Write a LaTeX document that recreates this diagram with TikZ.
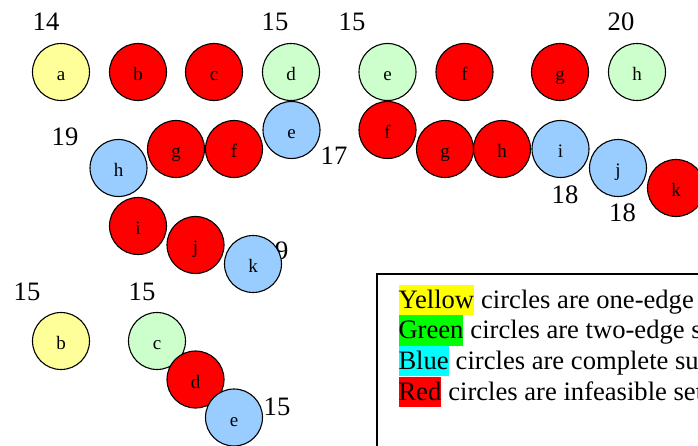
\documentclass[tikz,border=0pt]{standalone}
\usepackage{fontspec}
\setmainfont{Liberation Serif}
\definecolor{cyellow}{HTML}{FFFF99}
\definecolor{cred}{HTML}{FF0000}
\definecolor{cgreen}{HTML}{CCFFCC}
\definecolor{cblue}{HTML}{99CCFF}
\definecolor{hyellow}{HTML}{FFFF00}
\definecolor{hgreen}{HTML}{00FF00}
\definecolor{hcyan}{HTML}{00FFFF}
\definecolor{hred}{HTML}{FF0000}
\tikzset{
  cnode/.style={circle, draw=black, line width=1.1pt, minimum size=57pt, inner sep=0pt,
    text height=17pt, text depth=0pt, font=\fontsize{19}{20}\selectfont},
  ylw/.style={cnode, fill=cyellow},
  rd/.style={cnode, fill=cred},
  grn/.style={cnode, fill=cgreen},
  blu/.style={cnode, fill=cblue},
  lbl/.style={inner sep=0pt, font=\fontsize{26.6}{30}\selectfont},
  hl/.style={inner sep=0pt, anchor=base west, text height=23.5pt, text depth=7pt, font=\fontsize{26.6}{30}\selectfont},
  legtxt/.style={inner sep=0pt, anchor=base west, font=\fontsize{26.6}{30}\selectfont},
}
\begin{document}
\begin{tikzpicture}[x=1pt,y=-1pt]
\useasboundingbox (0,0) rectangle (698,446);
% top row
\node[lbl] (l14) at (46,22) {14};
\node[lbl] (l15a) at (275,22) {15};
\node[lbl] (l15b) at (352,22) {15};
\node[lbl] (l20) at (621,22) {20};
\node[ylw] (a1) at (61,72) {a};
\node[rd] (b1) at (138,72) {b};
\node[rd] (c1) at (214,72) {c};
\node[grn] (d1) at (291,72) {d};
\node[grn] (e1) at (387.5,72) {e};
\node[rd] (f1) at (464.5,72) {f};
\node[rd] (g1) at (560,72) {g};
\node[grn] (h1) at (637,72) {h};
% left chain
\node[lbl] (l19a) at (65,137) {19};
\node[lbl] (l17) at (334,156) {17};
\node[lbl] (l19b) at (275,251) {19};
\node[blu] (e2) at (291.5,130) {e};
\node[rd] (f2) at (234,149) {f};
\node[rd] (g2) at (176,149) {g};
\node[blu] (h2) at (118.5,168) {h};
\node[rd] (i2) at (138,226) {i};
\node[rd] (j2) at (195.5,245) {j};
\node[blu] (k2) at (253,264) {k};
% right chain
\node[lbl] (l18a) at (565,195) {18};
\node[lbl] (l18b) at (622.5,213) {18};
\node[rd] (f3) at (387.5,130) {f};
\node[rd] (g3) at (445,149) {g};
\node[rd] (h3) at (502,149) {h};
\node[blu] (i3) at (560.5,149) {i};
\node[blu] (j3) at (618,168) {j};
\node[rd] (k3) at (676,188) {k};
% bottom left
\node[lbl] (l15c) at (27,292) {15};
\node[lbl] (l15d) at (142,292) {15};
\node[lbl] (l15e) at (277,407) {15};
\node[ylw] (b4) at (61,341) {b};
\node[grn] (c4) at (157,341) {c};
\node[rd] (d4) at (195.5,379.5) {d};
\node[blu] (e4) at (234,417.5) {e};
% legend
\draw[line width=1.3pt] (377,480) -- (377,274) -- (760,274);
\node[hl, fill=hyellow] (hy) at (398.3,308) {Yellow};
\node[legtxt] (ty) at ([xshift=6.6pt]hy.base east) {circles are one-edge subsets};
\node[hl, fill=hgreen] (hg) at (398.3,338.7) {Green};
\node[legtxt] (tg) at ([xshift=6.6pt]hg.base east) {circles are two-edge subsets};
\node[hl, fill=hcyan] (hb) at (398.3,369.4) {Blue};
\node[legtxt] (tb) at ([xshift=6.6pt]hb.base east) {circles are complete subsets};
\node[hl, fill=hred] (hr) at (398.3,400.1) {Red};
\node[legtxt] (tr) at ([xshift=6.6pt]hr.base east) {circles are infeasible sets};
\end{tikzpicture}
\end{document}
